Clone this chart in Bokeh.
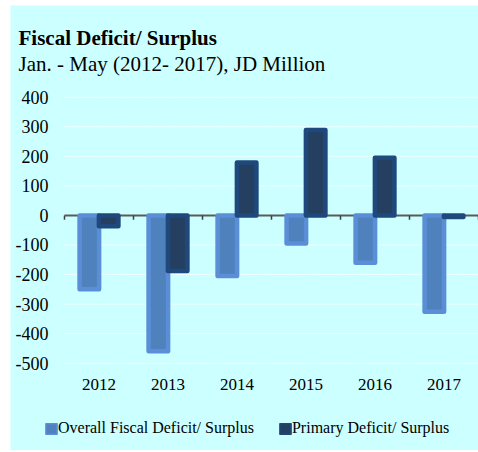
import numpy as np
from bokeh.plotting import figure
from bokeh.models import Label, Legend, LegendItem, Range1d
from bokeh.embed import file_html
from bokeh.resources import INLINE

# ---- data ----
years = ["2012", "2013", "2014", "2015", "2016", "2017"]
overall = [-250, -460, -205, -95, -160, -326]
primary = [-37, -188, 179, 289, 195, -5]
y_ticks = [-500, -400, -300, -200, -100, 0, 100, 200, 300, 400]
y_tick_labels = [str(t) for t in y_ticks]
title_text = "Fiscal Deficit/ Surplus"
subtitle_text = "Jan. - May (2012- 2017), JD Million"
series_names = ["Overall Fiscal Deficit/ Surplus", "Primary Deficit/ Surplus"]

BG = "#CCFFFF"
FONT = "Liberation Serif"
C_OVR_FILL, C_OVR_LINE = "#4F81BD", "#5A8FD8"
C_PRI_FILL, C_PRI_LINE = "#253F60", "#1F497D"

n = len(years)
idx = np.arange(n)
bounds = np.arange(n + 1) - 0.5
x_lo, x_hi = -0.5, n - 0.5

# frame covers the whole figure; plotting area: categories -0.5..5.5, values -500..400
p = figure(width=468, height=445, output_backend="svg", toolbar_location=None,
           x_range=Range1d(-1.2826, x_hi), y_range=Range1d(-795.4, 710.3),
           background_fill_color=BG, border_fill_color=BG, outline_line_color=None,
           min_border=0)
p.styles = {"margin-left": "10px", "margin-top": "5px"}
p.axis.visible = False
p.grid.visible = False

# titles (screen units from frame bottom-left)
p.add_layout(Label(x=8, y=413, x_units="screen", y_units="screen",
                   text=title_text, text_font=FONT, text_font_size="21px",
                   text_font_style="bold", text_color="#000000",
                   text_baseline="alphabetic", text_align="left"))
p.add_layout(Label(x=8, y=387, x_units="screen", y_units="screen",
                   text=subtitle_text, text_font=FONT, text_font_size="21px",
                   text_font_style="normal", text_color="#000000",
                   text_baseline="alphabetic", text_align="left"))

# horizontal gridlines over the category area
p.segment(x0=np.full(len(y_ticks), x_lo), x1=np.full(len(y_ticks), x_hi),
          y0=y_ticks, y1=y_ticks, line_color="#FFFFFF", line_width=1,
          line_dash="2 1")

# zero line and boundary tick marks
p.segment(x0=[x_lo], x1=[x_hi], y0=[0], y1=[0], line_color="#5A5A5A",
          line_width=2)
p.segment(x0=bounds, y0=np.zeros(n + 1), x1=bounds,
          y1=np.full(n + 1, -15.0), line_color="#404040", line_width=1.5)

# y tick labels
p.text(x=np.full(len(y_ticks), x_lo), y=y_ticks, text=y_tick_labels,
       x_offset=-16, text_align="right", text_baseline="middle",
       text_font={"value": FONT}, text_font_size={"value": "18px"},
       text_color="#000000")

# x category labels below the lowest gridline
p.text(x=idx, y=np.full(n, min(y_ticks)), text=years, y_offset=21,
       text_align="center", text_baseline="middle",
       text_font={"value": FONT}, text_font_size={"value": "17px"},
       text_color="#000000")

# bars
w = 0.283
p.vbar(x=idx - 0.14, top=overall, bottom=0, width=w,
       fill_color=C_OVR_FILL, line_color=C_OVR_LINE, line_width=4.5,
       line_join="round")
p.vbar(x=idx + 0.14, top=primary, bottom=0, width=w,
       fill_color=C_PRI_FILL, line_color=C_PRI_LINE, line_width=4.5,
       line_join="round")

# hidden copies of the series, used only for legend swatches (thinner outline)
l1 = p.vbar(x=idx - 0.14, top=overall, bottom=0, width=w, fill_color=C_OVR_FILL,
            line_color=C_OVR_LINE, line_width=1.5, line_join="round", visible=False)
l2 = p.vbar(x=idx + 0.14, top=primary, bottom=0, width=w, fill_color=C_PRI_FILL,
            line_color=C_PRI_LINE, line_width=1.5, line_join="round", visible=False)

legend = Legend(items=[LegendItem(label=series_names[0], renderers=[l1]),
                       LegendItem(label=series_names[1], renderers=[l2])],
                orientation="horizontal", location=(34, 13),
                background_fill_alpha=0, border_line_alpha=0,
                label_text_font=FONT, label_text_font_size="16px",
                label_text_color="#000000",
                label_standoff=0, spacing=24, glyph_width=14, glyph_height=13,
                margin=0, padding=0)
p.add_layout(legend, "center")

open("out.html", "w").write(file_html(p, INLINE))
